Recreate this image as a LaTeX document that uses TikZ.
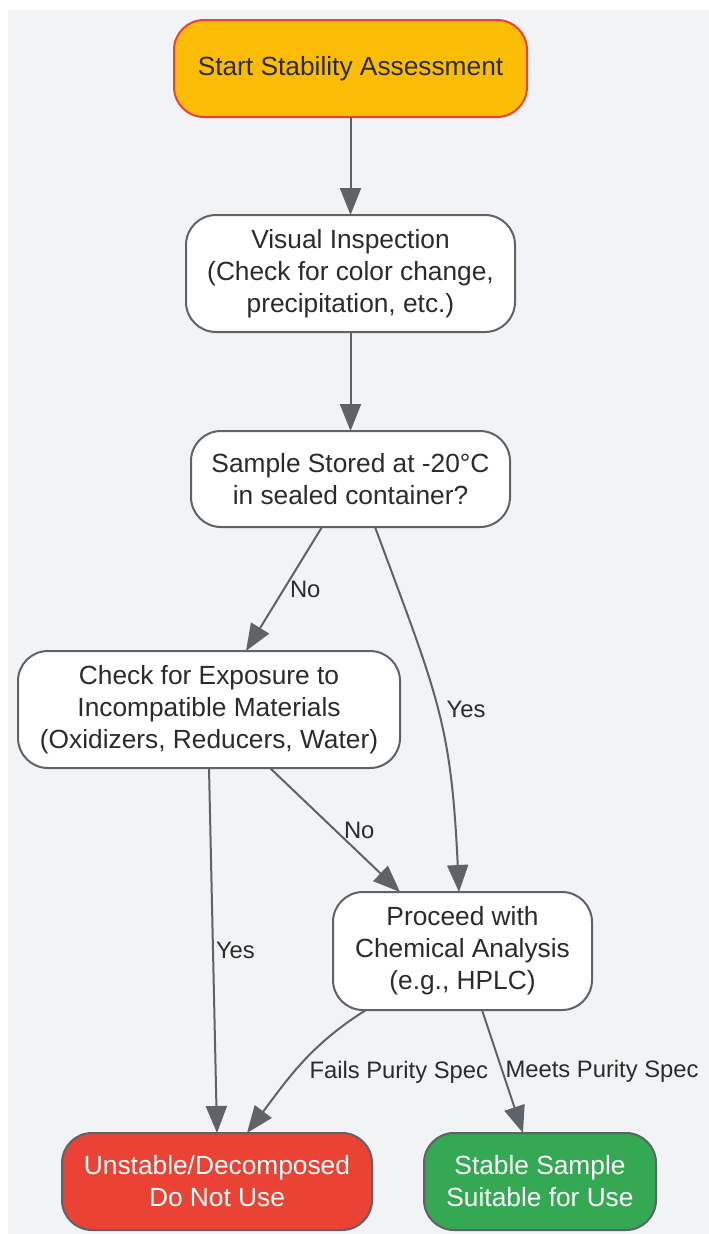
\documentclass[tikz,border=0pt]{standalone}
\usepackage{fontspec}
\setmainfont{Liberation Sans}
\usetikzlibrary{arrows.meta}
\usetikzlibrary{positioning}
\definecolor{canvas}{HTML}{F1F3F5}
\definecolor{edgegray}{HTML}{5F6368}
\definecolor{startfill}{HTML}{FBBC05}
\definecolor{startline}{HTML}{EA4335}
\definecolor{badfill}{HTML}{EA4335}
\definecolor{goodfill}{HTML}{34A853}
\definecolor{inktext}{HTML}{2B2B2B}
\tikzset {
  flow node/.style = {
    draw = edgegray,
    line width = 2pt,
    rounded corners = 30pt,
    align = center,
    inner sep = 0,
    outer sep = 0,
    text = inktext,
    font = \fontsize{26.3}{32}\selectfont
  },
  % first box
  startbox/.style = {
    flow node,
    draw = startline,
    fill = startfill
  },
  % white process box
  proc/.style = {
    flow node,
    fill = white
  },
  % end boxes
  fail end/.style = {
    flow node,
    fill = badfill,
    text = white
  },
  pass end/.style = {
    flow node,
    fill = goodfill,
    text = white
  }
}
\tikzset {
  arr/.style = {
    draw = edgegray,
    line width = 2pt,
    -{Triangle[length=27pt,width=21pt]}
  },
  % edge label
  lbl/.style = {
    font = \fontsize{23.8}{28}\selectfont,
    text = inktext,
    inner sep = 2pt
  }
}
\begin{document}
\begin{tikzpicture}[x=1pt, y=-1pt]
    \fill[canvas] (8,10) rectangle (709,1234);
    \useasboundingbox (0,0) rectangle (709,1234);

    \node[startbox, minimum width=353pt, minimum height=97pt] (start) at (350.5,68.5) {Start Stability Assessment};
    \node[proc, minimum width=329pt, minimum height=117pt] (visual) [below=98pt of start] {Visual Inspection\\(Check for color change,\\precipitation, etc.)};
    \node[proc, minimum width=319pt, minimum height=96pt] (stored) [below=99pt of visual] {Sample Stored at -20°C\\in sealed container?};
    \node[proc, minimum width=382pt, minimum height=117pt] (exposure) at (209,709.5) {Check for Exposure to\\Incompatible Materials\\(Oxidizers, Reducers, Water)};
    \node[proc, minimum width=259pt, minimum height=118pt] (analysis) at (462.5,951) {Proceed with\\Chemical Analysis\\(e.g., HPLC)};
    \node[fail end, minimum width=310pt, minimum height=97pt] (unstable) at (217,1181.5) {Unstable/Decomposed\\Do Not Use};
    \node[pass end, minimum width=232pt, minimum height=97pt] (stable) at (540,1181.5) {Stable Sample\\Suitable for Use};

    \draw[arr] (start) -- (visual);
    \draw[arr] (visual) -- (stored);

    \draw[arr] ([xshift=-28.5pt]stored.south)
    -- node[lbl, anchor=west, xshift=3pt] {No} ([xshift=37pt]exposure.north);

    \draw[arr] ([xshift=24.5pt]stored.south)
    .. controls +(63,170) and +(-8,-170) .. ([xshift=-3.5pt]analysis.north)
    node[lbl, pos=0.5, anchor=west, xshift=6pt] {Yes};

    \draw[arr] (exposure.south)
    -- node[lbl, anchor=west] {Yes} (unstable.north);

    \draw[arr] ([xshift=61pt]exposure.south)
    -- node[lbl, anchor=west, xshift=6pt] {No} ([xshift=-62.5pt]analysis.north);

    \draw[arr] ([xshift=-96.5pt]analysis.south)
    .. controls +(-56,35) and +(40,-53) .. ([xshift=30pt]unstable.north)
    node[lbl, pos=0.5, anchor=west, xshift=6pt, yshift=-8pt] {Fails Purity Spec};

    \draw[arr] ([xshift=19.5pt]analysis.south)
    -- node[lbl, anchor=west] {Meets Purity Spec} ([xshift=-17pt]stable.north);
\end{tikzpicture}
\end{document}
